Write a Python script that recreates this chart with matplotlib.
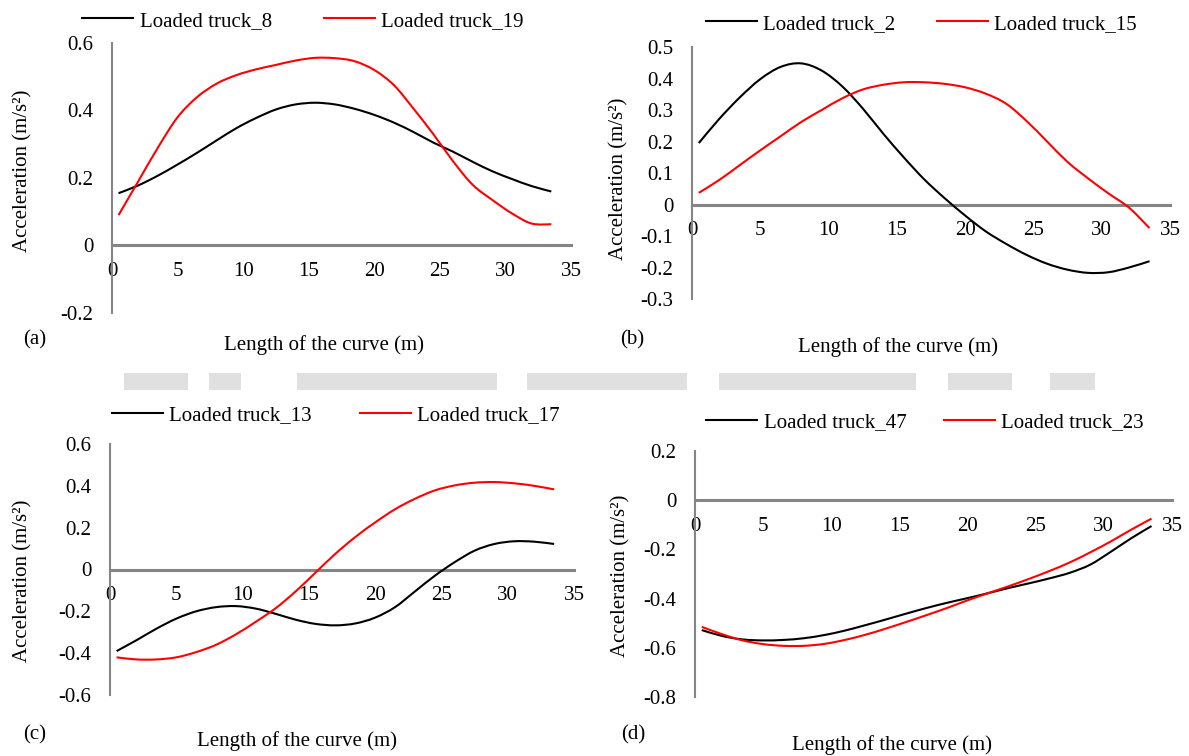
import numpy as np
import matplotlib
matplotlib.use('Agg')
import matplotlib.pyplot as plt
from matplotlib.patches import Rectangle, PathPatch
from matplotlib.path import Path
from matplotlib.lines import Line2D
from matplotlib.ticker import FuncFormatter

plt.rcParams['font.family'] = ['Liberation Serif', 'DejaVu Serif']
plt.rcParams['axes.unicode_minus'] = False

# Distance along the curve (m), shared by all series
dist = [0.5, 2, 3.5, 5, 6.5, 8, 9.5, 11, 12.5, 14, 15.5, 17, 18.5, 20,
        21.5, 23, 24.5, 26, 27.5, 29, 30.5, 32, 33.5]

# (a) acceleration (m/s2)
truck_8 = [0.155, 0.178, 0.207, 0.240, 0.275, 0.312, 0.348, 0.378, 0.403, 0.418,
           0.423, 0.418, 0.405, 0.387, 0.364, 0.336, 0.305, 0.278, 0.248, 0.220,
           0.197, 0.176, 0.160]
truck_19 = [0.090, 0.190, 0.290, 0.380, 0.440, 0.480, 0.505, 0.522, 0.535, 0.548,
            0.556, 0.555, 0.546, 0.520, 0.475, 0.405, 0.330, 0.250, 0.180, 0.135,
            0.095, 0.065, 0.063]

# (b)
truck_2 = [0.195, 0.272, 0.340, 0.398, 0.437, 0.448, 0.425, 0.375, 0.305, 0.225,
           0.150, 0.080, 0.020, -0.035, -0.085, -0.125, -0.160, -0.188, -0.207,
           -0.217, -0.215, -0.200, -0.180]
truck_15 = [0.037, 0.078, 0.125, 0.172, 0.217, 0.262, 0.300, 0.337, 0.365, 0.380,
            0.388, 0.388, 0.383, 0.372, 0.352, 0.320, 0.265, 0.200, 0.135, 0.083,
            0.035, -0.010, -0.075]

# (c)
truck_13 = [-0.390, -0.338, -0.283, -0.235, -0.200, -0.180, -0.175, -0.187, -0.212,
            -0.240, -0.260, -0.267, -0.258, -0.230, -0.180, -0.105, -0.030, 0.035,
            0.090, 0.122, 0.135, 0.133, 0.122]
truck_17 = [-0.420, -0.430, -0.430, -0.420, -0.395, -0.360, -0.310, -0.250, -0.185,
            -0.105, -0.015, 0.075, 0.155, 0.225, 0.288, 0.338, 0.378, 0.402, 0.415,
            0.418, 0.412, 0.400, 0.383]

# (d)
truck_47 = [-0.528, -0.552, -0.566, -0.570, -0.568, -0.561, -0.548, -0.530, -0.508,
            -0.485, -0.461, -0.438, -0.417, -0.398, -0.378, -0.357, -0.338, -0.318,
            -0.295, -0.262, -0.210, -0.155, -0.105]
truck_23 = [-0.515, -0.545, -0.570, -0.585, -0.592, -0.592, -0.584, -0.568, -0.547,
            -0.522, -0.495, -0.467, -0.438, -0.407, -0.378, -0.350, -0.320, -0.288,
            -0.253, -0.212, -0.168, -0.120, -0.075]

W, H = 1189, 756
fs = 15
axis_grey = '#858585'

def fx(px):
    return px / W

def fy(py):
    return 1 - py / H

def smooth_path(x, y):
    # spreadsheet-style smoothed line: cubic bezier through every point
    pts = np.column_stack([x, y])
    n = len(pts)
    verts = [pts[0]]
    codes = [Path.MOVETO]
    for i in range(n - 1):
        p0 = pts[max(i - 1, 0)]
        p1 = pts[i]
        p2 = pts[i + 1]
        p3 = pts[min(i + 2, n - 1)]
        verts += [p1 + (p2 - p0) / 6, p2 - (p3 - p1) / 6, p2]
        codes += [Path.CURVE4] * 3
    return Path(verts, codes)

panels = [
    dict(ys=(truck_8, truck_19), names=('Loaded truck_8', 'Loaded truck_19'),
         box=(112, 571, 43, 313), ylim=(-0.2, 0.6), ystep=0.2, leg=(303, 21), cs=2.5,
         ylab=(23, 171), xlab=(324, 345), tag='(a)', tagpos=(23, 340)),
    dict(ys=(truck_2, truck_15), names=('Loaded truck_2', 'Loaded truck_15'),
         box=(692, 1170, 47, 299), ylim=(-0.3, 0.5), ystep=0.1, leg=(921, 24), cs=2.0,
         ylab=(619, 179), xlab=(898, 347), tag='(b)', tagpos=(620, 340)),
    dict(ys=(truck_13, truck_17), names=('Loaded truck_13', 'Loaded truck_17'),
         box=(110, 574, 444, 695), ylim=(-0.6, 0.6), ystep=0.2, leg=(336, 415), cs=2.3,
         ylab=(23, 581), xlab=(297, 741), tag='(c)', tagpos=(23, 735)),
    dict(ys=(truck_47, truck_23), names=('Loaded truck_47', 'Loaded truck_23'),
         box=(695, 1172, 451, 697), ylim=(-0.8, 0.2), ystep=0.2, leg=(925, 422), cs=1.8,
         ylab=(621, 576), xlab=(892, 745), tag='(d)', tagpos=(621, 735)),
]

fig = plt.figure(figsize=(W / 100, H / 100), dpi=100)

for p in panels:
    x0, x1, yt, yb = p['box']
    ax = fig.add_axes([fx(x0), fy(yb), (x1 - x0) / W, (yb - yt) / H])
    handles = []
    for vals, col, name in zip(p['ys'], ('black', '#ff0000'), p['names']):
        ax.add_patch(PathPatch(smooth_path(dist, vals), facecolor='none', edgecolor=col,
                               lw=1.5, zorder=3))
        handles.append(Line2D([], [], color=col, lw=1.5, label=name))
    ax.set_xlim(0, 35)
    ax.set_ylim(*p['ylim'])
    ax.set_xticks(np.arange(0, 36, 5))
    lo, hi = p['ylim']
    n = int(round((hi - lo) / p['ystep']))
    ax.set_yticks([round(lo + i * p['ystep'], 1) for i in range(n + 1)])
    ax.yaxis.set_major_formatter(FuncFormatter(lambda v, pos: '%g' % round(v, 1)))
    ax.xaxis.set_major_formatter(FuncFormatter(lambda v, pos: '%d' % v))
    for s in ('top', 'right'):
        ax.spines[s].set_visible(False)
    ax.spines['bottom'].set_position(('data', 0))
    ax.spines['bottom'].set_color(axis_grey)
    ax.spines['bottom'].set_linewidth(2.2)
    ax.spines['left'].set_color(axis_grey)
    ax.spines['left'].set_linewidth(1.5)
    ax.spines['bottom'].set_zorder(2)
    ax.spines['left'].set_zorder(2)
    ax.tick_params(axis='x', length=0, pad=12, labelsize=fs)
    ax.tick_params(axis='y', length=0, pad=13.5, labelsize=fs)
    ax.patch.set_visible(False)

    fig.legend(handles=handles, loc='center', bbox_to_anchor=(fx(p['leg'][0]), fy(p['leg'][1])),
               ncol=2, frameon=False, fontsize=fs, handlelength=2.45, handletextpad=0.3,
               columnspacing=p['cs'], borderpad=0, borderaxespad=0)
    fig.text(fx(p['ylab'][0]), fy(p['ylab'][1]), 'Acceleration (m/s²)', rotation=90,
             ha='center', va='center', fontsize=fs)
    fig.text(fx(p['xlab'][0]), fy(p['xlab'][1]), 'Length of the curve (m)',
             ha='center', va='center', fontsize=fs)
    fig.text(fx(p['tagpos'][0]), fy(p['tagpos'][1]), p['tag'], ha='left', va='center', fontsize=fs)

# faint grey strip between the two rows
strip = [(124, 188), (209, 241), (297, 497), (527, 687), (719, 916), (948, 1012), (1050, 1095)]
for a, b in strip:
    fig.add_artist(Rectangle((fx(a), fy(390)), (b - a) / W, 17 / H, transform=fig.transFigure,
                             facecolor='#e0e0e0', edgecolor='none', zorder=0))

fig.savefig('out.png', dpi=100)
